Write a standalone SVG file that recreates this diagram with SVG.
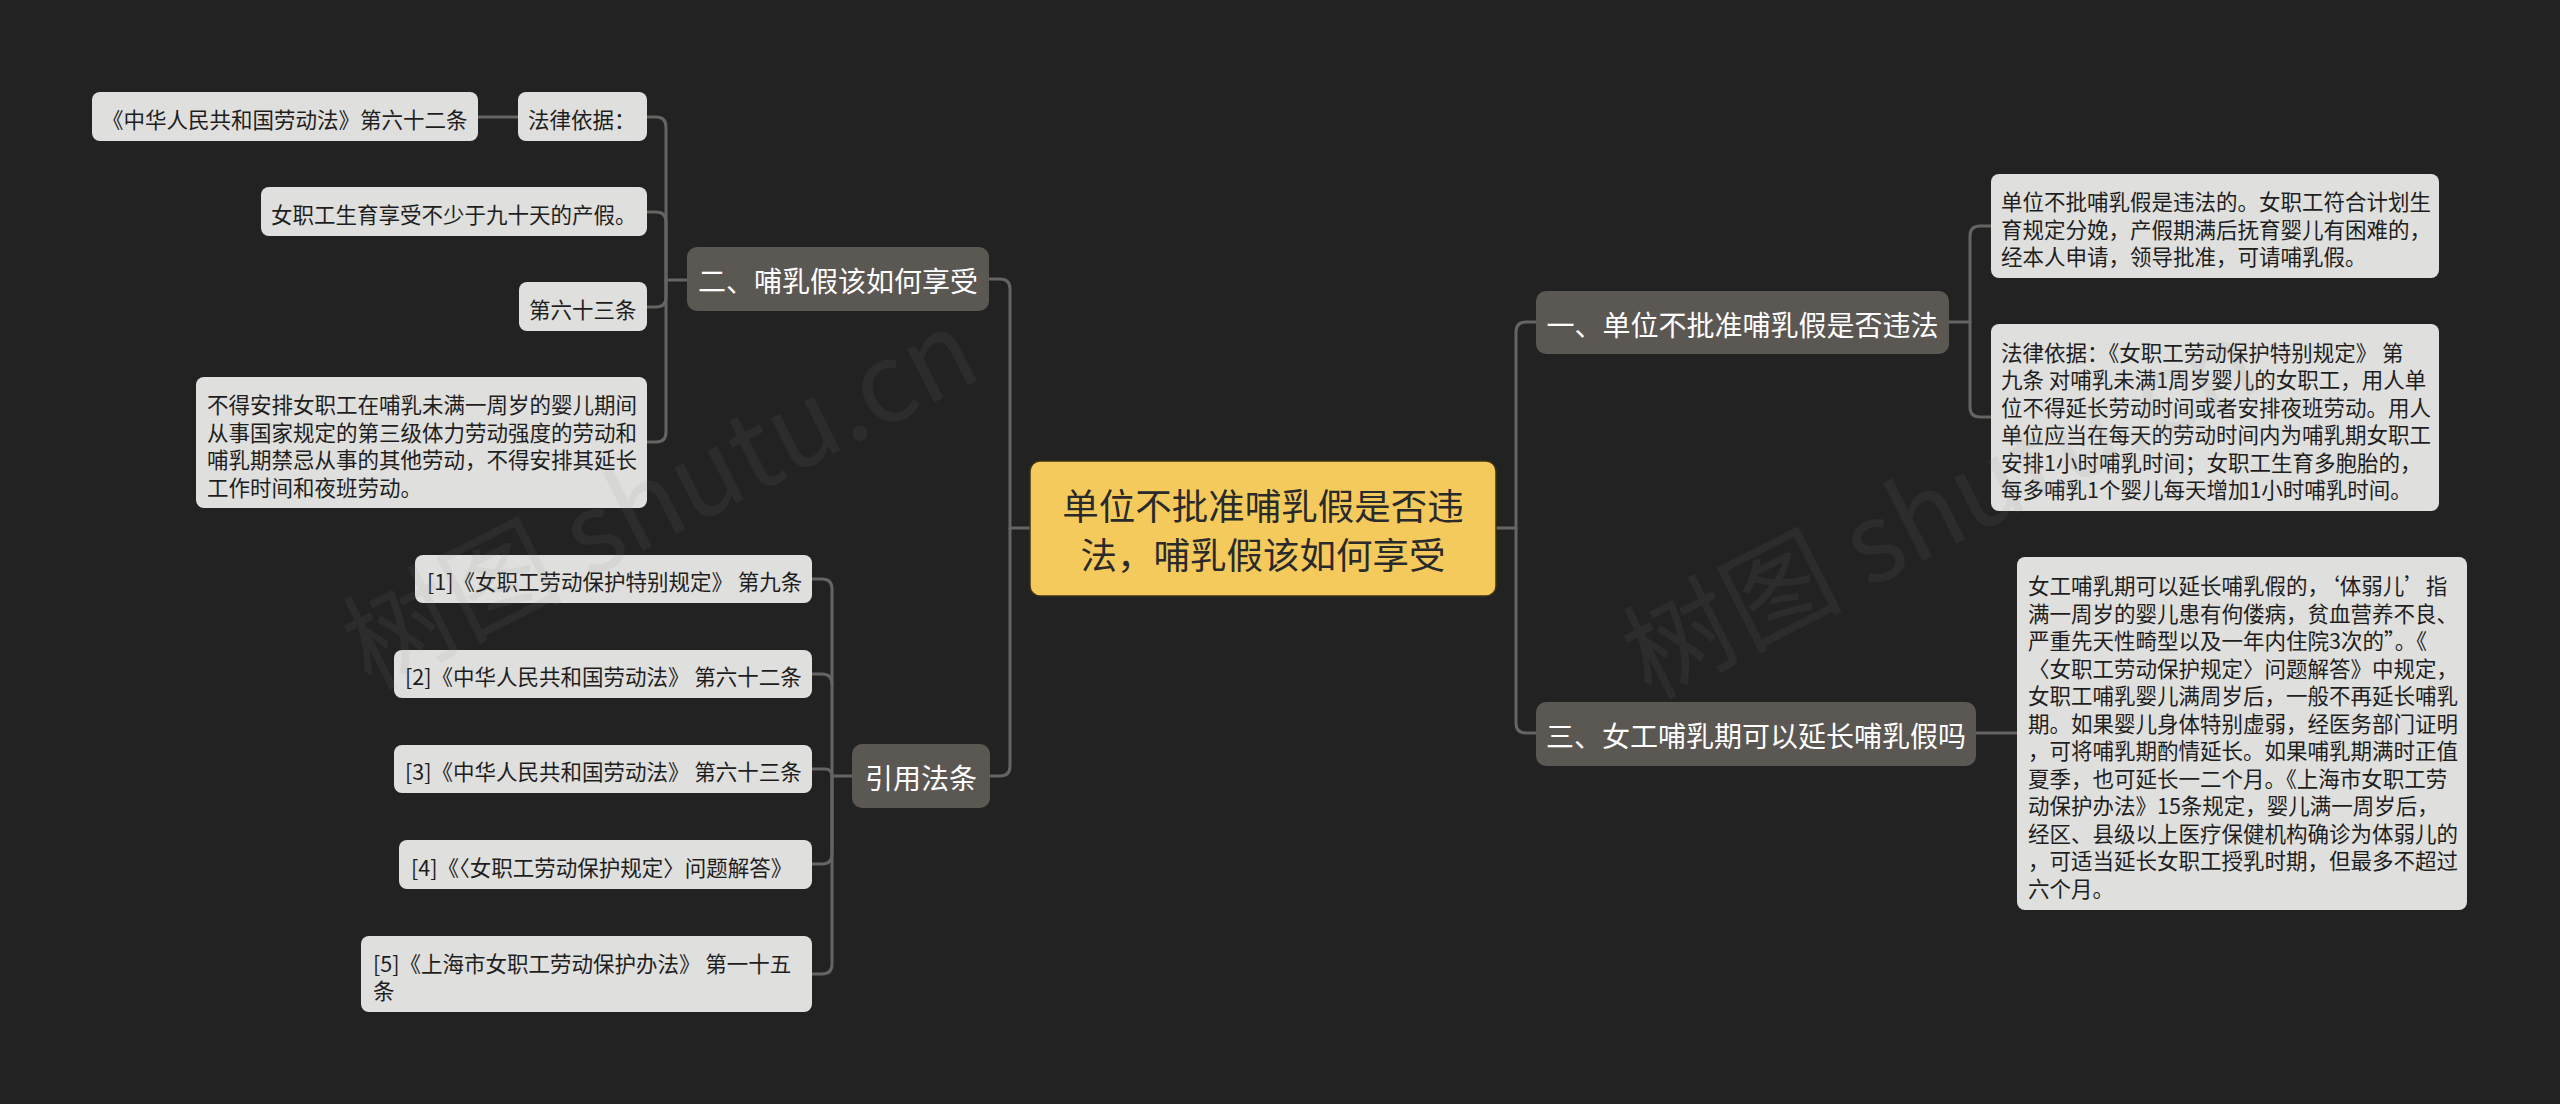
<svg xmlns="http://www.w3.org/2000/svg" width="2560" height="1104" viewBox="0 0 2560 1104">
<style>
.bg{fill:#222222}
.conn path{fill:none;stroke:#666462;stroke-width:3;stroke-linecap:round}
.leaf rect{fill:#dfdfdd}
.leaf text{fill:#1e1e1e;font-family:"Noto Sans CJK SC","Noto Sans",sans-serif;font-size:21.5px;dominant-baseline:central}
.l1 rect{fill:#5b5753}
.l1 text{fill:#ffffff;font-family:"Noto Sans CJK SC","Noto Sans",sans-serif;font-size:28px;text-anchor:middle;dominant-baseline:central}
.root rect{fill:#f5ca5c;stroke:#3d3114;stroke-width:1.5}
.root text{fill:#2a2a2a;font-family:"Noto Sans CJK SC","Noto Sans",sans-serif;font-size:36.5px;text-anchor:middle;dominant-baseline:central}
.wm{fill:#8a8a8a;opacity:0.1;font-family:"Noto Sans CJK SC","Noto Sans",sans-serif;font-size:110px}
</style>
<rect class="bg" x="0" y="0" width="2560" height="1104"/>

<g id="connectors" class="conn">
  <path d="M1030,528 H1010 V289 Q1010,279 1000,279 H989"/>
  <path d="M1010,528 V766 Q1010,776 1000,776 H990"/>
  <path d="M1496,528 H1516 V332 Q1516,322 1526,322 H1536"/>
  <path d="M1516,528 V723 Q1516,733 1526,733 H1536"/>
  <path d="M687,280 H666 V127 Q666,117 656,117 H647"/>
  <path d="M666,280 V222 Q666,212 656,212 H647"/>
  <path d="M666,280 V297 Q666,307 656,307 H647"/>
  <path d="M666,280 V432 Q666,442 656,442 H647"/>
  <path d="M518,117 H478"/>
  <path d="M852,776 H832 V589 Q832,579 822,579 H812"/>
  <path d="M832,684 Q832,674 822,674 H812"/>
  <path d="M832,776 Q832,769 825,769 H812"/>
  <path d="M832,776 V854 Q832,864 822,864 H812"/>
  <path d="M832,776 V964 Q832,974 822,974 H812"/>
  <path d="M1949,322 H1970 V236 Q1970,226 1980,226 H1991"/>
  <path d="M1970,322 V407 Q1970,417 1980,417 H1991"/>
  <path d="M1976,733 H2017"/>
</g>

<g id="root" class="root">
  <rect x="1030" y="461" width="466" height="135" rx="10"/>
  <text x="1263"><tspan x="1263" y="504">单位不批准哺乳假是否违</tspan><tspan x="1263" y="553">法，哺乳假该如何享受</tspan></text>
</g>

<g id="n-er" class="l1">
  <rect x="687" y="247" width="302" height="64" rx="10"/>
  <text x="838" y="280">二、哺乳假该如何享受</text>
</g>
<g id="n-yinyong" class="l1">
  <rect x="852" y="744" width="138" height="64" rx="10"/>
  <text x="921" y="777">引用法条</text>
</g>
<g id="n-yi" class="l1">
  <rect x="1536" y="291" width="413" height="63" rx="10"/>
  <text x="1742.5" y="323.5">一、单位不批准哺乳假是否违法</text>
</g>
<g id="n-san" class="l1">
  <rect x="1536" y="702" width="440" height="64" rx="10"/>
  <text x="1756" y="735">三、女工哺乳期可以延长哺乳假吗</text>
</g>

<g id="n-ldf62" class="leaf">
  <rect x="92" y="92" width="386" height="49" rx="8"/>
  <text x="102" y="118">《中华人民共和国劳动法》第六十二条</text>
</g>
<g id="n-flyj" class="leaf">
  <rect x="518" y="92" width="129" height="49" rx="8"/>
  <text x="528" y="118">法律依据：</text>
</g>
<g id="n-90" class="leaf">
  <rect x="261" y="187" width="386" height="49" rx="8"/>
  <text x="271" y="213">女职工生育享受不少于九十天的产假。</text>
</g>
<g id="n-63" class="leaf">
  <rect x="519" y="282" width="128" height="49" rx="8"/>
  <text x="529" y="308">第六十三条</text>
</g>
<g id="n-budei" class="leaf">
  <rect x="196" y="377" width="451" height="131" rx="8"/>
  <text><tspan x="207" y="403">不得安排女职工在哺乳未满一周岁的婴儿期间</tspan><tspan x="207" y="430.5">从事国家规定的第三级体力劳动强度的劳动和</tspan><tspan x="207" y="458">哺乳期禁忌从事的其他劳动，不得安排其延长</tspan><tspan x="207" y="485.5">工作时间和夜班劳动。</tspan></text>
</g>

<g id="n-c1" class="leaf">
  <rect x="415" y="555" width="397" height="48" rx="8"/>
  <text x="427" y="580.5">[1]《女职工劳动保护特别规定》 第九条</text>
</g>
<g id="n-c2" class="leaf">
  <rect x="394" y="650" width="418" height="48" rx="8"/>
  <text x="405" y="675.5">[2]《中华人民共和国劳动法》 第六十二条</text>
</g>
<g id="n-c3" class="leaf">
  <rect x="394" y="745" width="418" height="48" rx="8"/>
  <text x="405" y="770.5">[3]《中华人民共和国劳动法》 第六十三条</text>
</g>
<g id="n-c4" class="leaf">
  <rect x="399" y="840" width="413" height="49" rx="8"/>
  <text x="411" y="866">[4]《〈女职工劳动保护规定〉问题解答》</text>
</g>
<g id="n-c5" class="leaf">
  <rect x="361" y="936" width="451" height="76" rx="8"/>
  <text><tspan x="373" y="961.5">[5]《上海市女职工劳动保护办法》 第一十五</tspan><tspan x="373" y="989">条</tspan></text>
</g>

<g id="n-r1" class="leaf">
  <rect x="1991" y="174" width="448" height="104" rx="8"/>
  <text><tspan x="2001" y="200">单位不批哺乳假是违法的。女职工符合计划生</tspan><tspan x="2001" y="227.5">育规定分娩，产假期满后抚育婴儿有困难的，</tspan><tspan x="2001" y="255">经本人申请，领导批准，可请哺乳假。</tspan></text>
</g>
<g id="n-r2" class="leaf">
  <rect x="1991" y="324" width="448" height="187" rx="8"/>
  <text><tspan x="2001" y="350.5">法律依据：《女职工劳动保护特别规定》 第</tspan><tspan x="2001" y="378">九条 对哺乳未满1周岁婴儿的女职工，用人单</tspan><tspan x="2001" y="405.5">位不得延长劳动时间或者安排夜班劳动。用人</tspan><tspan x="2001" y="433">单位应当在每天的劳动时间内为哺乳期女职工</tspan><tspan x="2001" y="460.5">安排1小时哺乳时间；女职工生育多胞胎的，</tspan><tspan x="2001" y="488">每多哺乳1个婴儿每天增加1小时哺乳时间。</tspan></text>
</g>
<g id="n-r3" class="leaf">
  <rect x="2017" y="557" width="450" height="353" rx="8"/>
  <text><tspan x="2028" y="584">女工哺乳期可以延长哺乳假的，‘体弱儿’指</tspan><tspan x="2028" y="611.5">满一周岁的婴儿患有佝偻病，贫血营养不良、</tspan><tspan x="2028" y="639">严重先天性畸型以及一年内住院3次的”。《</tspan><tspan x="2028" y="666.5">〈女职工劳动保护规定〉问题解答》中规定，</tspan><tspan x="2028" y="694">女职工哺乳婴儿满周岁后，一般不再延长哺乳</tspan><tspan x="2028" y="721.5">期。如果婴儿身体特别虚弱，经医务部门证明</tspan><tspan x="2028" y="749">，可将哺乳期酌情延长。如果哺乳期满时正值</tspan><tspan x="2028" y="776.5">夏季，也可延长一二个月。《上海市女职工劳</tspan><tspan x="2028" y="804">动保护办法》15条规定，婴儿满一周岁后，</tspan><tspan x="2028" y="831.5">经区、县级以上医疗保健机构确诊为体弱儿的</tspan><tspan x="2028" y="859">，可适当延长女职工授乳时期，但最多不超过</tspan><tspan x="2028" y="886.5">六个月。</tspan></text>
</g>

<g id="watermark">
  <text class="wm" x="370" y="690" transform="rotate(-27 370 690)">树图 shutu.cn</text>
  <text class="wm" x="1650" y="700" transform="rotate(-27 1650 700)">树图 shutu.cn</text>
</g>
</svg>
